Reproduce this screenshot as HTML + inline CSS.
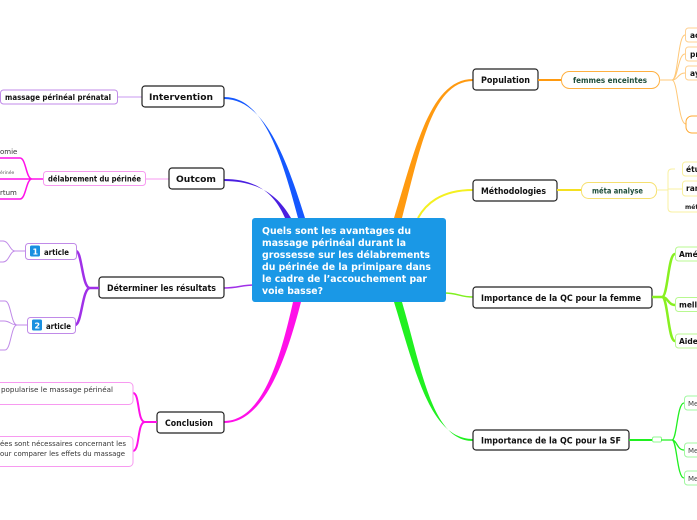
<!DOCTYPE html>
<html><head><meta charset="utf-8"><style>
html,body{margin:0;padding:0;background:#fff;width:697px;height:520px;overflow:hidden}
svg{display:block}
text{font-family:"DejaVu Sans","Liberation Sans",sans-serif}
.b{font-weight:bold;font-size:9px;fill:#111}
.s{font-size:7px;fill:#333}
.t{font-weight:bold;font-size:7.5px;fill:#111}
</style></head><body>
<svg width="697" height="520" viewBox="0 0 697 520" xmlns="http://www.w3.org/2000/svg">
<!-- main branches -->
<path d="M224,97 C262,97 280,150 298,218 L305,218 C284,150 262,99 224,99 Z" fill="#1558ff"/>
<path d="M224,179 C258,179 275,195 285,218 L291,218 C278,195 258,181 224,181 Z" fill="#4a1fe0"/>
<path d="M224,288 C238,288 242,285 254,285" stroke="#a030e8" stroke-width="1.5" fill="none"/>
<path d="M224,421 C262,421 280,360 293,302 L301,302 C286,360 264,423 224,423 Z" fill="#ff10e8"/>
<path d="M473,79 C430,79 415,150 394,218 L402,218 C420,150 432,81 473,81 Z" fill="#ff9a10"/>
<path d="M473,190 C440,190 425,205 418,218" stroke="#f4f020" stroke-width="2" fill="none"/>
<path d="M444,293 C458,293 460,297 473,297" stroke="#80f020" stroke-width="1.5" fill="none"/>
<path d="M473,439 C430,439 415,370 394,302 L402,302 C422,370 432,441 473,441 Z" fill="#20f020"/>

<!-- center -->
<rect x="252" y="218" width="194" height="84" rx="3" fill="#1a98e6"/>
<g font-weight="bold" font-size="10" fill="#fff" lengthAdjust="spacingAndGlyphs">
<text x="262" y="234" textLength="149" lengthAdjust="spacingAndGlyphs">Quels sont les avantages du</text>
<text x="262" y="246" textLength="144" lengthAdjust="spacingAndGlyphs">massage périnéal durant la</text>
<text x="262" y="258" textLength="168" lengthAdjust="spacingAndGlyphs">grossesse sur les délabrements</text>
<text x="262" y="270" textLength="169" lengthAdjust="spacingAndGlyphs">du périnée de la primipare dans</text>
<text x="262" y="282" textLength="165" lengthAdjust="spacingAndGlyphs">le cadre de l’accouchement par</text>
<text x="262" y="294" textLength="61" lengthAdjust="spacingAndGlyphs">voie basse?</text>
</g>

<!-- Intervention -->
<line x1="118" y1="97" x2="142" y2="97" stroke="#c89af0" stroke-width="1"/>
<rect x="0.5" y="90" width="117" height="14" rx="3" fill="#fff" stroke="#c08ae8"/>
<text x="5" y="100" class="t" textLength="106" lengthAdjust="spacingAndGlyphs">massage  périnéal prénatal</text>
<rect x="142" y="86" width="82" height="21" rx="3" fill="#fff" stroke="#222" stroke-width="1.2"/>
<text x="149" y="100" class="b" textLength="64" lengthAdjust="spacingAndGlyphs">Intervention</text>

<!-- Outcom -->
<line x1="145" y1="179" x2="169" y2="179" stroke="#f79af0" stroke-width="1"/>
<rect x="43.5" y="171.5" width="102" height="14" rx="3" fill="#fff" stroke="#f79af0"/>
<text x="48" y="181.5" class="t" textLength="93" lengthAdjust="spacingAndGlyphs">délabrement du périnée</text>
<rect x="169" y="168" width="55" height="21" rx="3" fill="#fff" stroke="#222" stroke-width="1.2"/>
<text x="176" y="182" class="b" textLength="40" lengthAdjust="spacingAndGlyphs">Outcom</text>
<path d="M43,179 L32,179 C26,179 26,158 20,158 L0,158 M32,179 L0,179 M32,179 C26,179 26,199 20,199 L0,199" stroke="#ff10e8" stroke-width="1.5" fill="none"/>
<text x="0" y="154" class="s">omie</text>
<text x="0" y="174" font-size="4.5" fill="#555">érinée</text>
<text x="0" y="195" class="s">rtum</text>

<!-- Déterminer -->
<rect x="99" y="277" width="125" height="21" rx="3" fill="#fff" stroke="#222" stroke-width="1.2"/>
<text x="107" y="291" class="b" textLength="109" lengthAdjust="spacingAndGlyphs">Déterminer les résultats</text>
<path d="M99,288 L90,288 C82,288 82,251 76,251 M90,288 C82,288 82,325 75,325" stroke="#a030e8" stroke-width="2.5" fill="none"/>
<rect x="25.5" y="243.5" width="51" height="16" rx="3" fill="#fff" stroke="#c08ae8"/>
<rect x="30" y="245.5" width="10" height="11" rx="1.5" fill="#1a90e0"/>
<text x="32.5" y="254.5" font-size="8" font-weight="bold" fill="#fff">1</text>
<text x="44" y="255" class="t" textLength="25" lengthAdjust="spacingAndGlyphs">article</text>
<rect x="27.5" y="317.5" width="48" height="16" rx="3" fill="#fff" stroke="#c08ae8"/>
<rect x="32" y="319.5" width="10" height="11" rx="1.5" fill="#1a90e0"/>
<text x="34.5" y="328.5" font-size="8" font-weight="bold" fill="#fff">2</text>
<text x="46" y="329" class="t" textLength="25" lengthAdjust="spacingAndGlyphs">article</text>
<path d="M25,251 L15,251 C10,251 9,241 3,241 L0,241 M15,251 C10,251 9,262 3,262 L0,262" stroke="#c08ae8" stroke-width="1" fill="none"/>
<path d="M27,325 L17,325 C11,325 11,301 5,301 L0,301 M17,325 C11,325 10,321 4,321 L0,321 M17,325 C11,325 11,350 5,350 L0,350" stroke="#c08ae8" stroke-width="1" fill="none"/>

<!-- Conclusion -->
<rect x="157" y="412" width="67" height="21" rx="3" fill="#fff" stroke="#222" stroke-width="1.2"/>
<text x="165" y="426" class="b" textLength="48" lengthAdjust="spacingAndGlyphs">Conclusion</text>
<path d="M157,422 L145,422 C137,422 140,393 133,393 M145,422 C137,422 140,451 133,451" stroke="#ff10e8" stroke-width="2" fill="none"/>
<rect x="-5" y="382.5" width="138" height="22" rx="4" fill="#fff" stroke="#f79af0"/>
<text x="1" y="392" class="s" textLength="112" lengthAdjust="spacingAndGlyphs">popularise le massage périnéal</text>
<rect x="-5" y="436.5" width="138" height="30" rx="4" fill="#fff" stroke="#f79af0"/>
<text x="0" y="446" class="s" textLength="126" lengthAdjust="spacingAndGlyphs">ées sont nécessaires concernant les</text>
<text x="0" y="456" class="s" textLength="125" lengthAdjust="spacingAndGlyphs">our comparer les effets du massage</text>

<!-- Population -->
<rect x="473" y="69" width="65" height="21" rx="3" fill="#fff" stroke="#222" stroke-width="1.2"/>
<text x="481" y="83" class="b" textLength="49" lengthAdjust="spacingAndGlyphs">Population</text>
<line x1="538" y1="80" x2="561" y2="80" stroke="#ff9a10" stroke-width="2"/>
<rect x="561.5" y="71.5" width="98" height="17" rx="8" fill="#fff" stroke="#ffb040"/>
<text x="573" y="83" font-size="8" font-weight="bold" fill="#1e4d3a" textLength="74" lengthAdjust="spacingAndGlyphs">femmes enceintes</text>
<path d="M659,80 L672,80 C678,80 678,35 685,35 M672,80 C678,80 678,54 685,54 M672,80 C678,80 678,73 685,73 M672,80 C678,80 678,124 686,124" stroke="#ffc878" stroke-width="1" fill="none"/>
<rect x="685.5" y="28" width="20" height="14" rx="3" fill="#fff" stroke="#ffd090"/>
<text x="690" y="38" class="t">ac</text>
<rect x="685.5" y="47" width="20" height="14" rx="3" fill="#fff" stroke="#ffd090"/>
<text x="690" y="57" class="t">pr</text>
<rect x="685.5" y="66" width="20" height="14" rx="3" fill="#fff" stroke="#ffd090"/>
<text x="690" y="76" class="t">ay</text>
<rect x="686" y="116" width="20" height="17" rx="6" fill="#fff" stroke="#ffa830"/>

<!-- Méthodologies -->
<rect x="473" y="180" width="84" height="21" rx="3" fill="#fff" stroke="#222" stroke-width="1.2"/>
<text x="481" y="194" class="b" textLength="65" lengthAdjust="spacingAndGlyphs">Méthodologies</text>
<line x1="557" y1="190" x2="581" y2="190" stroke="#f4e020" stroke-width="2"/>
<rect x="581.5" y="182.5" width="75" height="16" rx="7" fill="#fff" stroke="#f6e070"/>
<text x="592" y="193.5" font-size="7.5" font-weight="bold" fill="#1e4d3a" textLength="51" lengthAdjust="spacingAndGlyphs">méta analyse</text>
<path d="M656,190 L668,190 M675,169 L672,169 Q668,169 668,173 L668,208 Q668,212 672,212 L697,212 M668,189 L682,189" stroke="#f8f0a0" stroke-width="1" fill="none"/>
<rect x="682.5" y="162" width="20" height="14" rx="3" fill="#fff" stroke="#f8f0a0"/>
<text x="686" y="172" class="t">étu</text>
<rect x="682.5" y="181" width="20" height="15" rx="3" fill="#fff" stroke="#f8f0a0"/>
<text x="686" y="191" class="t">ran</text>
<text x="685" y="209" font-size="6" font-weight="bold" fill="#222">mét</text>

<!-- Importance femme -->
<rect x="473" y="287" width="179" height="21" rx="3" fill="#fff" stroke="#222" stroke-width="1.2"/>
<text x="481" y="301" class="b" textLength="160" lengthAdjust="spacingAndGlyphs">Importance de la QC pour la femme</text>
<path d="M652,297 L662,297 C668,297 668,254 675,254 M662,297 C668,297 668,305 675,305 M662,297 C668,297 668,341 675,341" stroke="#88f020" stroke-width="2.5" fill="none"/>
<rect x="675.5" y="247" width="25" height="14" rx="3" fill="#fff" stroke="#b8f890"/>
<text x="679" y="257" class="t">Amé</text>
<rect x="675.5" y="297.5" width="25" height="14" rx="3" fill="#fff" stroke="#b8f890"/>
<text x="679" y="307.5" class="t">mell</text>
<rect x="675.5" y="334" width="25" height="14" rx="3" fill="#fff" stroke="#b8f890"/>
<text x="679" y="344" class="t">Aide</text>

<!-- Importance SF -->
<rect x="473" y="430" width="156" height="20" rx="3" fill="#fff" stroke="#222" stroke-width="1.2"/>
<text x="481" y="443.5" class="b" textLength="140" lengthAdjust="spacingAndGlyphs">Importance de la QC pour la SF</text>
<line x1="629" y1="440" x2="652" y2="440" stroke="#20f020" stroke-width="2"/>
<rect x="652.5" y="437" width="9" height="5" rx="1.5" fill="#fff" stroke="#90f890"/>
<path d="M661,440 L672,440 C677,440 677,403 684,403 M672,440 C677,440 677,450 684,450 M672,440 C677,440 677,478 684,478" stroke="#20f020" stroke-width="1.3" fill="none"/>
<rect x="684.5" y="396" width="20" height="14" rx="3" fill="#fff" stroke="#a0f8a0"/>
<text x="688" y="406" font-size="7" fill="#444">Me</text>
<rect x="684.5" y="443" width="20" height="14" rx="3" fill="#fff" stroke="#a0f8a0"/>
<text x="688" y="453" font-size="7" fill="#444">Me</text>
<rect x="684.5" y="471" width="20" height="14" rx="3" fill="#fff" stroke="#a0f8a0"/>
<text x="688" y="481" font-size="7" fill="#444">Me</text>
</svg>
</body></html>
